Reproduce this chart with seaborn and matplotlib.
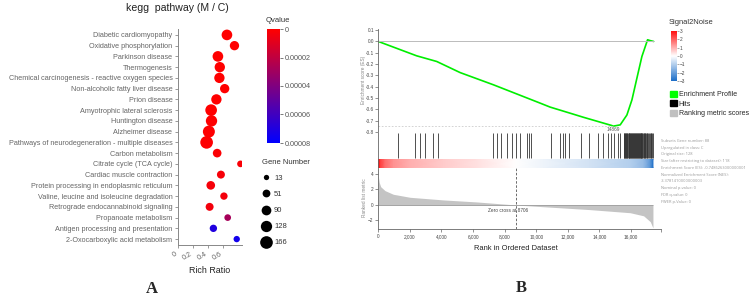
import numpy as np
import pandas as pd
import matplotlib
import matplotlib.pyplot as plt
import seaborn as sns
from matplotlib.colors import LinearSegmentedColormap, Normalize
from matplotlib.cm import ScalarMappable
from matplotlib.lines import Line2D
from matplotlib.patches import Patch

# ---- panel A data (KEGG enrichment) ----
pathways = [
    'Diabetic cardiomyopathy', 'Oxidative phosphorylation', 'Parkinson disease',
    'Thermogenesis', 'Chemical carcinogenesis - reactive oxygen species',
    'Non-alcoholic fatty liver disease', 'Prion disease',
    'Amyotrophic lateral sclerosis', 'Huntington disease', 'Alzheimer disease',
    'Pathways of neurodegeneration - multiple diseases', 'Carbon metabolism',
    'Citrate cycle (TCA cycle)', 'Cardiac muscle contraction',
    'Protein processing in endoplasmic reticulum',
    'Valine, leucine and isoleucine degradation',
    'Retrograde endocannabinoid signaling', 'Propanoate metabolism',
    'Antigen processing and presentation', '2-Oxocarboxylic acid metabolism',
]
rich_ratio = [0.65, 0.75, 0.53, 0.555, 0.55, 0.62, 0.51, 0.44, 0.445, 0.41,
              0.38, 0.52, 0.83, 0.57, 0.435, 0.61, 0.42, 0.66, 0.47, 0.78]
gene_number = [112, 81, 112, 104, 104, 81, 104, 138, 129, 147,
               166, 67, 32, 54, 67, 43, 54, 32, 43, 27]
q_value = [2e-8, 1e-8, 5e-8, 1e-7, 3e-8, 2e-7, 1e-7, 3e-7, 4e-7, 6e-7,
           8e-7, 1.5e-6, 2e-6, 2.5e-6, 3e-6, 3.5e-6, 4e-6, 2.8e-5, 7.0e-5, 7.4e-5]
ratio_ticks = [0, 0.2, 0.4, 0.6]
ratio_tick_labels = ['0', '0.2', '0.4', '0.6']
q_ticks = [0, 0.00002, 0.00004, 0.00006, 0.00008]
q_tick_labels = ['0', '0.00002', '0.00004', '0.00006', '0.00008']
gene_legend = [13, 51, 90, 128, 166]

# ---- panel B data (GSEA) ----
es_rank = [0, 2430, 3700, 5180, 7290, 9190, 10250, 10880, 12150, 12990, 14790,
           14869, 15317, 15740, 16060, 16375, 16690, 17050, 17200, 17430]
es_score = [0.0, -0.127, -0.177, -0.275, -0.383, -0.487, -0.545, -0.58, -0.634,
            -0.67, -0.743, -0.7486, -0.737, -0.65, -0.516, -0.324, -0.133,
            0.015, 0.008, 0.0]
es_min_rank = 14869
es_min = -0.7486
hit_ranks = [1227, 2326, 2664, 2959, 3488, 3783, 7247, 7522, 7775, 8135, 8452,
             8726, 9000, 9402, 9571, 9676, 10944, 11535, 11683, 11831, 12106,
             12845, 13331, 13901, 14218, 14535, 14746, 14894, 15169, 15317,
             15530, 15565, 15610, 15640, 15672, 15705, 15740, 15768, 15810,
             15843, 15869, 15905, 15938, 15962, 16004, 16021, 16063, 16095,
             16118, 16152, 16185, 16207, 16243, 16276, 16301, 16334, 16362,
             16395, 16421, 16449, 16483, 16512, 16540, 16577, 16603, 16628,
             16664, 16690, 16722, 16759, 16803, 16838, 16884, 16917, 16962,
             17004, 17041, 17093, 17138, 17192, 17236, 17288, 17335, 17385]
metric_rank = [0, 60, 150, 425, 950, 2010, 4120, 6235, 8706, 10250, 13400,
               15950, 16800, 17220, 17390]
metric_val = [3.7, 2.9, 2.36, 1.85, 1.38, 0.99, 0.65, 0.39, 0.0, -0.2, -0.6,
              -1.0, -1.4, -2.15, -2.95]
zero_cross = 8706
rank_ticks = [0, 2000, 4000, 6000, 8000, 10000, 12000, 14000, 16000]
es_ticks = [0.1, 0.0, -0.1, -0.2, -0.3, -0.4, -0.5, -0.6, -0.7, -0.8]
metric_ticks = [4, 2, 0, -2]
s2n_ticks = [3, 2, 1, 0, -1, -2, -3]
stats_lines = [
    'Subsets Gene number: 88',
    'Upregulated in class: C',
    'Original size: 128',
    'Size (after restricting to dataset): 118',
    'Enrichment Score (ES): -0.7486263000000001',
    'Normalized Enrichment Score (NES):',
    '-3.3781410000000003',
    'Nominal p-value: 0',
    'FDR q-value: 0',
    'FWER p-Value: 0',
]

sns.set_style('ticks')
plt.rcParams['font.family'] = ['Liberation Sans', 'DejaVu Sans']

W, H = 752, 300
fig = plt.figure(figsize=(W / 100, H / 100), dpi=100)


def box(x0, y0, x1, y1):
    return [x0 / W, 1 - y1 / H, (x1 - x0) / W, (y1 - y0) / H]


# ================= Panel A =================
q_cmap = LinearSegmentedColormap.from_list('q', ['#ff0000', '#0000ff'])
q_norm = Normalize(0, 0.00008)
size_range = (14.6, 83)

df = pd.DataFrame({'pathway': pathways, 'ratio': rich_ratio,
                   'genes': gene_number, 'q': q_value})
ax = fig.add_axes(box(178, 29, 242, 245))
sns.scatterplot(data=df, x='ratio', y='pathway', hue='q', size='genes',
                palette=q_cmap, hue_norm=q_norm, sizes=size_range,
                size_norm=(13, 166), linewidth=0, legend=False, ax=ax)
ax.set_ylim(len(pathways) - 0.45, -0.55)
ax.set_xlim(0, 0.85)
ax.set_xticks(ratio_ticks)
ax.set_xticklabels(ratio_tick_labels, rotation=30, ha='right')
ax.set_ylabel('')
ax.set_xlabel('Rich Ratio', fontsize=6.4, color='#222', labelpad=3)
sns.despine(ax=ax)
for s in ['left', 'bottom']:
    ax.spines[s].set_color('#888')
    ax.spines[s].set_linewidth(0.7)
ax.tick_params(axis='both', length=2.5, width=0.6, color='#888',
               labelsize=5.2, labelcolor='#666', pad=1.5)
fig.text(177.5 / W, 1 - 8 / H, 'kegg  pathway (M / C)', ha='center',
         va='center', fontsize=7.6, color='#222')

cax = fig.add_axes(box(267, 29, 280, 143))
cb = fig.colorbar(ScalarMappable(norm=q_norm, cmap=q_cmap), cax=cax)
cb.outline.set_visible(False)
cb.set_ticks(q_ticks, labels=q_tick_labels)
cax.invert_yaxis()
cax.tick_params(length=2.5, width=0.6, color='#666', labelsize=5.2,
                labelcolor='#555', pad=1)
fig.text(266 / W, 1 - 20 / H, 'Qvalue', fontsize=5.5, color='#333', va='center')

handles = []
for g in gene_legend:
    s = size_range[0] + (g - 13) / (166 - 13) * (size_range[1] - size_range[0])
    handles.append(Line2D([], [], marker='o', ls='', color='black',
                          markersize=np.sqrt(s), markeredgewidth=0))
leg = fig.legend(handles, [str(g) for g in gene_legend], title='Gene Number',
                 loc='upper left', bbox_to_anchor=(258 / W, 1 - 155 / H),
                 frameon=False, fontsize=5.5, title_fontsize=5.5,
                 labelspacing=1.15, handletextpad=0.4, borderpad=0,
                 handlelength=1.2, alignment='left')
leg.get_title().set_color('#333')
for t in leg.get_texts():
    t.set_color('#333')

fig.text(151.7 / W, 1 - 289 / H, 'A', fontsize=12, fontweight='bold',
         family='Liberation Serif', ha='center', va='center')

# ================= Panel B =================
x_max = 17900
n_genes = es_rank[-1]
small = 3.4
s2n_cmap = LinearSegmentedColormap.from_list('s2n', ['#1c6ec8', '#ffffff', '#ff1010'])

ax_es = fig.add_axes(box(378.3, 29, 661, 132))
sns.lineplot(x=es_rank, y=es_score, sort=False, estimator=None,
             color='#00ee00', lw=1.2, ax=ax_es)
ax_es.hlines(0, 0, n_genes, color='#bbbbbb', lw=0.7)
ax_es.hlines(es_min, 0, es_min_rank, color='#cccccc', lw=0.6, ls=(0, (2, 2)))
ax_es.text(es_min_rank, -0.78, str(es_min_rank), fontsize=small, ha='center',
           va='center', color='#555')
ax_es.set_xlim(0, x_max)
ax_es.set_ylim(-0.8, 0.11)
ax_es.set_yticks(es_ticks)
ax_es.set_yticklabels(['%.1f' % v for v in es_ticks])
ax_es.set_xticks([])
sns.despine(ax=ax_es)
ax_es.spines['bottom'].set_bounds(0, n_genes)
ax_es.spines['bottom'].set_color('#aaaaaa')
ax_es.spines['bottom'].set_linewidth(0.6)
ax_es.spines['left'].set_color('#666')
ax_es.spines['left'].set_linewidth(0.6)
ax_es.tick_params(axis='y', length=2, width=0.5, color='#666',
                  labelsize=small, labelcolor='#444', pad=1)

ax_hits = fig.add_axes(box(378.3, 132, 661, 159))
ax_hits.vlines(hit_ranks, 0.05, 0.95, color='#333333', lw=0.6)
ax_hits.set_xlim(0, x_max)
ax_hits.set_ylim(0, 1)
ax_hits.set_xticks([])
ax_hits.set_yticks([])
sns.despine(ax=ax_hits, bottom=True)
ax_hits.spines['left'].set_color('#666')
ax_hits.spines['left'].set_linewidth(0.6)

ax_strip = fig.add_axes(box(378.3, 159, 661, 168))
ax_strip.pcolormesh(metric_rank, [0, 1], np.vstack([metric_val, metric_val]),
                    shading='gouraud', cmap=s2n_cmap, vmin=-3, vmax=3)
ax_strip.set_xlim(0, x_max)
ax_strip.set_ylim(0, 1)
ax_strip.set_xticks([])
ax_strip.set_yticks([])
sns.despine(ax=ax_strip, bottom=True)
ax_strip.spines['left'].set_color('#666')
ax_strip.spines['left'].set_linewidth(0.6)

ax_m = fig.add_axes(box(378.3, 168, 661, 229))
ax_m.fill_between(metric_rank, 0, metric_val, color='#c4c4c4', lw=0)
ax_m.hlines(0, 0, metric_rank[-1], color='#999999', lw=0.6)
ax_m.axvline(zero_cross, color='#555', lw=0.6, ls=(0, (3, 2)))
ax_m.text(zero_cross - 480, -0.77, 'Zero cross at %d' % zero_cross,
          fontsize=small, ha='center', va='center', color='#444')
ax_m.set_xlim(0, x_max)
ax_m.set_ylim(-3.1, 4.77)
ax_m.set_yticks(metric_ticks)
ax_m.set_xticks(rank_ticks)
ax_m.set_xticklabels(['{:,}'.format(v) for v in rank_ticks])
ax_m.set_xticks([x_max], minor=True)
sns.despine(ax=ax_m)
for s in ['left', 'bottom']:
    ax_m.spines[s].set_color('#666')
    ax_m.spines[s].set_linewidth(0.6)
ax_m.tick_params(axis='both', which='both', length=2, width=0.5, color='#666',
                 labelsize=small, labelcolor='#444', pad=1.5)

fig.text(364 / W, 1 - 80 / H, 'Enrichment score (ES)', rotation=90,
         fontsize=small, color='#888', ha='center', va='center')
fig.text(364 / W, 1 - 198 / H, 'Ranked list metric', rotation=90,
         fontsize=small, color='#888', ha='center', va='center')
fig.text(516 / W, 1 - 248 / H, 'Rank in Ordered Dataset', fontsize=5.4,
         color='#222', ha='center', va='center')

cax2 = fig.add_axes(box(670.7, 31, 676.7, 81))
cb2 = fig.colorbar(ScalarMappable(norm=Normalize(-3, 3), cmap=s2n_cmap), cax=cax2)
cb2.outline.set_visible(False)
cb2.set_ticks(s2n_ticks)
cax2.tick_params(length=1.5, width=0.4, color='#666', labelsize=small,
                 labelcolor='#444', pad=0.8)
fig.text(669 / W, 1 - 23 / H, 'Signal2Noise', fontsize=5.4, color='#333',
         va='center')

fig.legend(handles=[Patch(color='#00ff00'), Patch(color='black'),
                    Patch(color='#c0c0c0')],
           labels=['Enrichment Profile', 'Hits', 'Ranking metric scores'],
           loc='upper left', bbox_to_anchor=(667 / W, 1 - 87.5 / H),
           frameon=False, fontsize=5, handlelength=0.9, handleheight=0.9,
           handletextpad=0.3, labelspacing=0.32, borderpad=0)

for i, line in enumerate(stats_lines):
    fig.text(661 / W, 1 - (140.7 + i * 6.8) / H, line, fontsize=2.9,
             color='#999', va='center', family=['Open Sans', 'DejaVu Sans'])

fig.text(521 / W, 1 - 288 / H, 'B', fontsize=12, fontweight='bold',
         family='Liberation Serif', ha='center', va='center')

fig.savefig('out.png', dpi=100)
